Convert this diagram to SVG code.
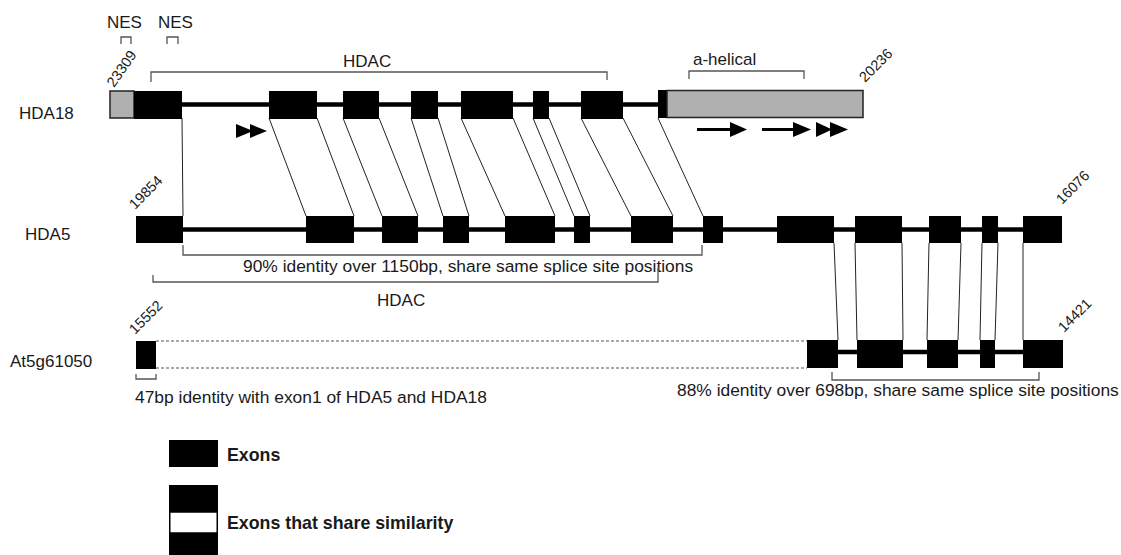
<svg xmlns="http://www.w3.org/2000/svg" width="1121" height="555" viewBox="0 0 1121 555">
<style>
text{font-family:"Liberation Sans",Arial,sans-serif;fill:#1a1a1a}
.lbl{font-size:17px}
.lng{font-size:17.4px}
.num{font-size:14.5px}
.leg{font-size:17.8px;font-weight:bold}
.ex{fill:#000}
.gray{fill:#b0b0b0;stroke:#222;stroke-width:1.5}
.bb{stroke:#000;stroke-width:4.5;fill:none}
.con{stroke:#222;stroke-width:1;fill:none}
.br{stroke:#555;stroke-width:1.3;fill:none}
.dash{stroke:#555;stroke-width:1.2;stroke-dasharray:3 2;fill:none}
.arl{stroke:#000;stroke-width:3}
</style>
<rect width="1121" height="555" fill="#fff"/>

<g id="connectors">
  <path class="con" d="M182,118 L183,216 M269,118 L306,216 M317,118 L354,216 M343,118 L382,216 M379,118 L418,216 M411,118 L443,216 M438,118 L469,216 M461,118 L505,216 M513,118 L555,216 M533,118 L574,216 M549,118 L590,216 M581,118 L631,216 M623,118 L673,216 M658,118 L703,216"/>
  <path class="con" d="M834,243 L838,340 M855,243 L857,340 M902,243 L903,340 M929,243 L927,340 M961,243 L958,340 M982,243 L980,340 M998,243 L995,340 M1023,243 L1023,340"/>
</g>

<g id="annotations">
  <text class="lbl" x="107" y="28">NES</text>
  <text class="lbl" x="158" y="28">NES</text>
  <path class="br" d="M121,44 V37 H131 V44 M167,44 V37 H178 V44"/>
  <path class="br" d="M151,82 V72 H607 V80"/>
  <text class="lbl" x="343" y="67">HDAC</text>
  <path class="br" d="M689,79 V71 H804 V79"/>
  <text class="lbl" x="693" y="65">a-helical</text>
  <path class="br" d="M183,245 V255 H702 V245"/>
  <text class="lng" x="243" y="272">90% identity over 1150bp, share same splice site positions</text>
  <path class="br" d="M153,275 V282 H658 V268"/>
  <text class="lbl" x="377" y="306">HDAC</text>
  <path class="br" d="M136,374 V379 H156 V374"/>
  <text class="lng" x="135" y="403">47bp identity with exon1 of HDA5 and HDA18</text>
  <path class="br" d="M832,372 V380 H1039 V372"/>
  <text class="lng" x="677" y="396">88% identity over 698bp, share same splice site positions</text>
</g>

<g id="HDA18">
  <text class="lbl" x="19" y="119">HDA18</text>
  <line class="bb" x1="182" y1="104.5" x2="660" y2="104.5"/>
  <rect class="gray" x="110" y="91" width="24" height="27"/>
  <rect class="ex" x="134" y="91" width="48" height="28"/>
  <rect class="ex" x="269" y="91" width="48" height="28"/>
  <rect class="ex" x="343" y="91" width="36" height="28"/>
  <rect class="ex" x="411" y="91" width="27" height="28"/>
  <rect class="ex" x="461" y="91" width="52" height="28"/>
  <rect class="ex" x="533" y="91" width="16" height="28"/>
  <rect class="ex" x="581" y="91" width="42" height="28"/>
  <rect class="ex" x="658" y="90" width="9" height="28"/>
  <rect class="gray" x="667" y="90.5" width="196" height="27"/>
  <text class="num" transform="translate(114,88) rotate(-55)">23309</text>
  <text class="num" transform="translate(865,83) rotate(-45)">20236</text>
  <polygon points="236,124 236,138 253,131"/>
  <polygon points="250,124 250,138 267,131"/>
  <line class="arl" x1="697" y1="129.5" x2="732" y2="129.5"/>
  <polygon points="730,122 730,137 747,129.5"/>
  <line class="arl" x1="762" y1="129.5" x2="795" y2="129.5"/>
  <polygon points="793,122 793,137 811,129.5"/>
  <polygon points="816,122 816,137 832,129.5"/>
  <polygon points="830,122 830,137 848,129.5"/>
</g>

<g id="HDA5">
  <text class="lbl" x="25" y="240">HDA5</text>
  <line class="bb" x1="183" y1="229.5" x2="1023" y2="229.5"/>
  <rect class="ex" x="136" y="216" width="47" height="27"/>
  <rect class="ex" x="306" y="216" width="48" height="27"/>
  <rect class="ex" x="382" y="216" width="36" height="27"/>
  <rect class="ex" x="443" y="216" width="26" height="27"/>
  <rect class="ex" x="505" y="216" width="50" height="27"/>
  <rect class="ex" x="574" y="216" width="16" height="27"/>
  <rect class="ex" x="631" y="216" width="42" height="27"/>
  <rect class="ex" x="703" y="216" width="20" height="27"/>
  <rect class="ex" x="777" y="216" width="57" height="27"/>
  <rect class="ex" x="855" y="216" width="47" height="27"/>
  <rect class="ex" x="929" y="216" width="32" height="27"/>
  <rect class="ex" x="982" y="216" width="16" height="27"/>
  <rect class="ex" x="1023" y="216" width="39" height="27"/>
  <text class="num" transform="translate(135,210) rotate(-45)">19854</text>
  <text class="num" transform="translate(1062,205) rotate(-45)">16076</text>
</g>

<g id="At5g61050">
  <text class="lbl" x="10" y="367">At5g61050</text>
  <path class="dash" d="M156,341 H807 M156,368 H807"/>
  <line class="bb" x1="838" y1="352" x2="1023" y2="352"/>
  <rect class="ex" x="136" y="341" width="20" height="28"/>
  <rect class="ex" x="807" y="340" width="31" height="28"/>
  <rect class="ex" x="857" y="340" width="46" height="28"/>
  <rect class="ex" x="927" y="340" width="31" height="28"/>
  <rect class="ex" x="980" y="340" width="15" height="28"/>
  <rect class="ex" x="1023" y="340" width="40" height="28"/>
  <text class="num" transform="translate(135,335) rotate(-45)">15552</text>
  <text class="num" transform="translate(1064,333) rotate(-45)">14421</text>
</g>

<g id="legend">
  <rect class="ex" x="169" y="440" width="49" height="27"/>
  <text class="leg" x="227" y="461">Exons</text>
  <rect class="ex" x="169" y="485" width="49" height="27"/>
  <rect x="169.75" y="512" width="47.5" height="21" fill="#fff" stroke="#000" stroke-width="1.5"/>
  <rect class="ex" x="169" y="533" width="49" height="22"/>
  <text class="leg" x="227" y="529">Exons that share similarity</text>
</g>
</svg>
